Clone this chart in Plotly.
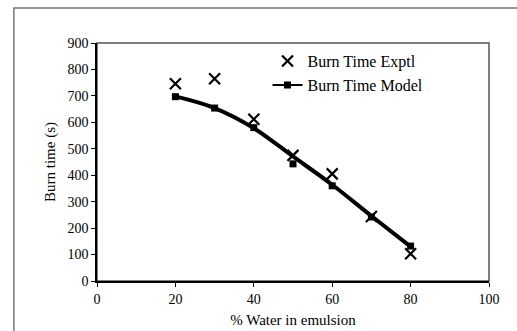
import plotly.graph_objects as go

water_pct = [20, 30, 40, 50, 60, 70, 80]
burn_exptl = [746, 765, 612, 475, 405, 244, 103]
burn_model = [697, 654, 580, 443, 360, 242, 132]
fit_curve = [698, 654, 578, 471, 364, 246, 130]

x_ticks = [0, 20, 40, 60, 80, 100]
y_ticks = [0, 100, 200, 300, 400, 500, 600, 700, 800, 900]

font = "Liberation Serif, Times New Roman, serif"

fig = go.Figure()
fig.add_trace(go.Scatter(
    x=water_pct, y=fit_curve, mode="lines", line=dict(color="black", width=4, shape="spline"),
    showlegend=False, hoverinfo="skip"))
fig.add_trace(go.Scatter(
    x=water_pct, y=burn_model, mode="markers", name="Burn Time Model",
    marker=dict(symbol="square", size=7, color="black"), showlegend=False))
fig.add_trace(go.Scatter(
    x=water_pct, y=burn_exptl, mode="markers", name="Burn Time Exptl",
    marker=dict(symbol="x-thin", size=11, line=dict(color="black", width=2.2), color="black")))
fig.add_trace(go.Scatter(
    x=[None], y=[None], mode="lines+markers", name="Burn Time Model",
    line=dict(color="black", width=2), marker=dict(symbol="square", size=7, color="black")))

fig.update_layout(
    width=517, height=331,
    margin=dict(l=97, r=28, t=43, b=50),
    paper_bgcolor="white", plot_bgcolor="white",
    font=dict(family=font, size=14, color="black"),
    showlegend=True,
    legend=dict(x=0.435, y=0.995, xanchor="left", yanchor="top", bgcolor="rgba(0,0,0,0)",
                font=dict(family=font, size=16), itemwidth=30, tracegroupgap=0),
    xaxis=dict(range=[0, 100], tickvals=x_ticks, showgrid=False, zeroline=False,
               showline=True, linecolor="black", linewidth=1.5, automargin=False,
               ticks="outside", ticklen=4, tickcolor="black",
               title=dict(text="% Water in emulsion", standoff=9, font=dict(size=15))),
    yaxis=dict(range=[0, 900], tickvals=y_ticks, showgrid=False, zeroline=False,
               showline=True, linecolor="black", linewidth=1.5, automargin=False,
               ticks="outside", ticklen=4, tickcolor="black",
               title=dict(text="Burn time (s)", standoff=8, font=dict(size=15))),
    shapes=[
        dict(type="rect", xref="paper", yref="paper", x0=0, y0=0, x1=1, y1=1,
             line=dict(color="#555555", width=1.5), layer="below"),
        dict(type="path", xref="paper", yref="paper",
             path="M -0.212 -0.3 L -0.212 1.147 L 1.1 1.147",
             line=dict(color="#777777", width=1.5)),
    ],
)

fig.write_html("out.html", config={"displayModeBar": False},
               post_script="document.body.style.margin='0';document.body.style.overflow='hidden';")
